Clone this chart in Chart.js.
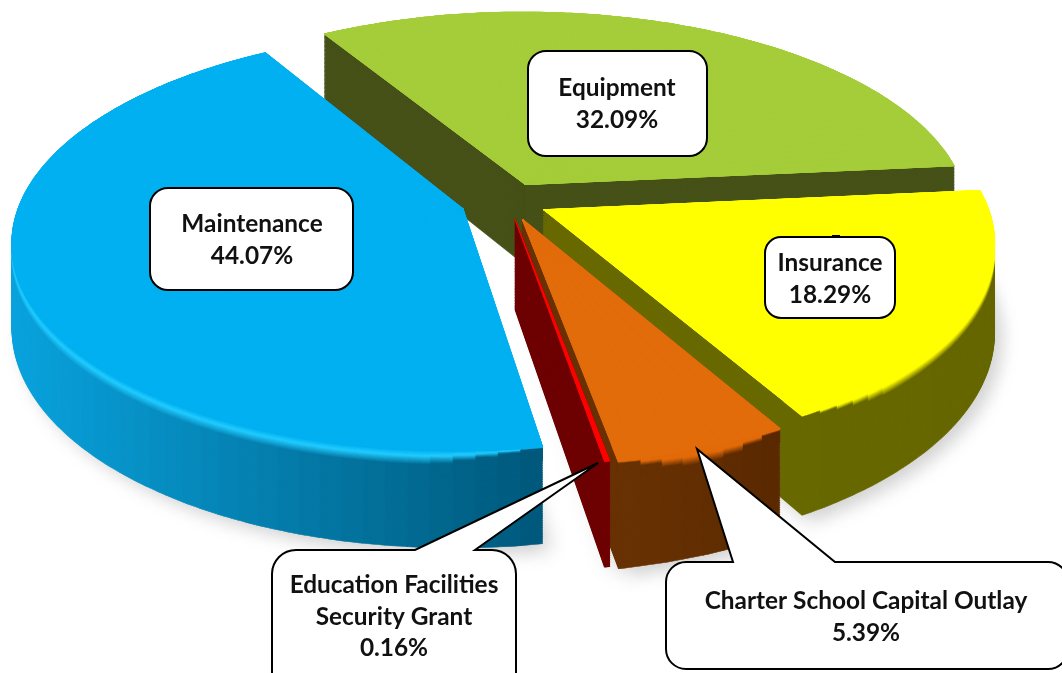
<!DOCTYPE html>
<html>
<head>
<meta charset="utf-8">
<script src="https://cdn.jsdelivr.net/npm/chart.js@4/dist/chart.umd.min.js"></script>
<style>html,body{margin:0;padding:0;background:#fff}canvas{display:block}</style>
</head>
<body>
<canvas id="c" width="1062" height="673"></canvas>
<script>
// ---- data ----
const categories = ['Equipment', 'Insurance', 'Charter School Capital Outlay', 'Education Facilities Security Grant', 'Maintenance'];
const values = [32.09, 18.29, 5.39, 0.16, 44.07];
const valueLabels = ['32.09%', '18.29%', '5.39%', '0.16%', '44.07%'];
const explode = [40, 40, 42, 40, 48];
// ---- style ----
const topColors = ['#a4cd39', '#ffff00', '#e26b0a', '#ff0000', '#00b0f0'];
const sideLeft = ['#465118', '#6b6b00', '#6b3305', '#6e0000', '#0aa3de'];
const sideRight = ['#465118', '#676700', '#5a2a00', '#6e0000', '#00587a'];
const sideRange = [[320, 950], [540, 990], [610, 780], [510, 610], [10, 545]];
const bevelMid = [null, '#ffff00', '#e26b0a', null, '#22ccff'];
const depthScale = [1, 1.05, 1.1, 1.08, 1];
const drawOrder = [0, 4, 1, 2, 3];
const view = { cx: 508, cy: 201, q: 0.46, p: 0.15, depth: 82, bevel: 12 };
const labelFont = 'bold 24.4px Lato';

function hex(c) { return [1, 3, 5].map(i => parseInt(c.substr(i, 2), 16)); }
function mix(a, b, t) {
  t = Math.max(0, Math.min(1, t));
  const A = hex(a), B = hex(b);
  return 'rgb(' + A.map((v, i) => Math.round(v + (B[i] - v) * t)).join(',') + ')';
}
function toHex(rgb) {
  const m = rgb.match(/\d+/g).map(Number);
  return '#' + m.map(v => v.toString(16).padStart(2, '0')).join('');
}

// project a point of the pie plane (unit radius) to the screen
function project(u, v, R, t) {
  const k = 1 / (1 - view.p * v);
  return [view.cx + R * u * k, view.cy + R * view.q * v * k + t * view.depth * k];
}

function drawPart(ctx, el, a0, a1, tipU, tipV, drop, fill, inner, border) {
  const R = el.outerRadius;
  const D0 = project(tipU, tipV, R, drop);
  const c0 = Math.cos(a0), s0 = Math.sin(a0), c1 = Math.cos(a1), s1 = Math.sin(a1);
  const D1 = project(tipU + c0, tipV + s0, R, drop);
  const D2 = project(tipU + c1, tipV + s1, R, drop);
  const det = R * (c0 * s1 - c1 * s0);
  const ax = D1[0] - D0[0], ay = D1[1] - D0[1], bx = D2[0] - D0[0], by = D2[1] - D0[1];
  const a = (ax * s1 - bx * s0) / det, c = (bx * c0 - ax * c1) / det;
  const b = (ay * s1 - by * s0) / det, d = (by * c0 - ay * c1) / det;
  const part = Object.create(el);
  part.startAngle = a0; part.endAngle = a1; part.circumference = a1 - a0;
  part.innerRadius = inner;
  part.options = Object.assign({}, el.options, {
    offset: 0, spacing: 0, backgroundColor: fill, borderColor: fill,
    borderWidth: border, borderRadius: 0, borderAlign: 'center'
  });
  ctx.save();
  ctx.transform(a, b, c, d, D0[0] - a * el.x - c * el.y, D0[1] - b * el.x - d * el.y);
  part.draw(ctx);
  ctx.restore();
}

function partsOf(el) {
  const span = el.endAngle - el.startAngle, n = Math.max(1, Math.ceil(span / (2.5 * Math.PI / 180)));
  const out = [];
  for (let i = 0; i < n; i++) out.push([el.startAngle + span * i / n, el.startAngle + span * (i + 1) / n]);
  return out;
}

const pie3d = {
  id: 'pie3d',
  beforeDatasetsDraw(chart) {
    const ctx = chart.ctx, arcs = chart.getDatasetMeta(0).data;
    // soft ground shadow
    ctx.save();
    ctx.shadowColor = 'rgba(0,0,0,0.22)'; ctx.shadowBlur = 20; ctx.shadowOffsetX = 8; ctx.shadowOffsetY = 6;
    drawOrder.forEach(i => {
      if (i === 0) return;
      const el = arcs[i], R = el.outerRadius, mid = (el.startAngle + el.endAngle) / 2;
      const tu = explode[i] / R * Math.cos(mid), tv = explode[i] / R * Math.sin(mid);
      partsOf(el).forEach(p => drawPart(ctx, el, p[0], p[1], tu, tv, depthScale[i], '#ffffff', 0, 0));
    });
    ctx.restore();
    drawOrder.forEach(i => {
      const el = arcs[i], R = el.outerRadius, mid = (el.startAngle + el.endAngle) / 2;
      const tu = explode[i] / R * Math.cos(mid), tv = explode[i] / R * Math.sin(mid);
      const parts = partsOf(el);
      const colorAt = p => {
        const a = (p[0] + p[1]) / 2;
        const sx = project(tu + Math.cos(a), tv + Math.sin(a), R, 0)[0];
        return toHex(mix(sideLeft[i], sideRight[i], (sx - sideRange[i][0]) / (sideRange[i][1] - sideRange[i][0])));
      };
      // extruded body
      const step = 1.5 / view.depth;
      for (let t = depthScale[i]; t > 0; t -= step) parts.forEach(p => {
        drawPart(ctx, el, p[0], p[1], tu, tv, t, colorAt(p), 0, 1);
      });
      // bevel band along the outer edge, tapering away towards the cut faces
      if (bevelMid[i]) {
        const taperParts = parts.length > 20 ? 5 : 3;
        const tbMax = view.bevel / view.depth;
        for (let t = tbMax; t > 0; t -= 0.75 / view.depth) {
          parts.forEach((p, j) => {
            const edge = Math.min(j, parts.length - 1 - j);
            const tb = tbMax * Math.min(1, (edge + 0.5) / taperParts);
            const f = Math.min(1, t / tb); // 1 at bottom of the band, 0 at top
            const col = f > 0.4 ? mix(bevelMid[i], colorAt(p), (f - 0.4) / 0.6) : mix(topColors[i], bevelMid[i], f / 0.4);
            drawPart(ctx, el, p[0], p[1], tu, tv, t, t > tb ? colorAt(p) : col, R * 0.93, 1);
          });
        }
      }
      // top face, laid several times so that no seam shows between its parts
      for (let pass = 0; pass < 3; pass++) {
        parts.forEach(p => drawPart(ctx, el, p[0], p[1], tu, tv, 0, topColors[i], 0, i === 3 ? 0.5 : 1.2));
      }
    });
    drawLabels(ctx);
    return false;
  }
};

function boxPath(ctx, x0, y0, x1, y1, r, ptr) {
  ctx.beginPath();
  ctx.moveTo(x0 + r, y0);
  if (ptr) { ctx.lineTo(ptr[0], y0); ctx.lineTo(ptr[2], ptr[3]); ctx.lineTo(ptr[1], y0); }
  ctx.lineTo(x1 - r, y0);
  ctx.arcTo(x1, y0, x1, y0 + r, r);
  ctx.lineTo(x1, y1 - r);
  ctx.arcTo(x1, y1, x1 - r, y1, r);
  ctx.lineTo(x0 + r, y1);
  ctx.arcTo(x0, y1, x0, y1 - r, r);
  ctx.lineTo(x0, y0 + r);
  ctx.arcTo(x0, y0, x0 + r, y0, r);
  ctx.closePath();
}

function drawLabels(ctx) {
  const boxes = [
    { i: 0, b: [528, 51, 707, 156], r: 18, lines: [categories[0], valueLabels[0]], cx: 617, ys: [88, 120] },
    { i: 1, b: [765, 237, 895, 318], r: 16, lines: [categories[1], valueLabels[1]], cx: 830, ys: [263, 295] },
    { i: 4, b: [150, 188, 353, 290], r: 18, lines: [categories[4], valueLabels[4]], cx: 252, ys: [224, 256] },
    { i: 3, b: [272, 550, 516, 702], r: 24, ptr: [415, 475, 598, 463], lines: ['Education Facilities', 'Security Grant', valueLabels[3]], cx: 394, ys: [585, 617, 648] },
    { i: 2, b: [666, 562, 1068, 669], r: 20, ptr: [733, 835, 697, 449], lines: [categories[2], valueLabels[2]], cx: 866, ys: [601, 633] }
  ];
  ctx.save();
  boxes.forEach(o => {
    boxPath(ctx, o.b[0], o.b[1], o.b[2], o.b[3], o.r, o.ptr);
    ctx.fillStyle = '#fff'; ctx.fill();
    ctx.strokeStyle = '#000'; ctx.lineWidth = 2; ctx.lineJoin = 'miter'; ctx.stroke();
    ctx.fillStyle = '#111'; ctx.font = labelFont; ctx.textAlign = 'center'; ctx.textBaseline = 'middle';
    o.lines.forEach((s, k) => ctx.fillText(s, o.cx, o.ys[k]));
  });
  ctx.fillStyle = '#000';
  ctx.fillRect(832, 235, 8, 3);
  ctx.restore();
}

new Chart(document.getElementById('c'), {
  type: 'pie',
  data: {
    labels: categories,
    datasets: [{ data: values, backgroundColor: topColors, offset: explode, borderWidth: 0, hoverOffset: 0 }]
  },
  options: {
    responsive: false,
    animation: false,
    rotation: -31,
    radius: 442,
    layout: { padding: 0 },
    events: [],
    plugins: { legend: { display: false }, tooltip: { enabled: false } }
  },
  plugins: [pie3d]
});
</script>
</body>
</html>
